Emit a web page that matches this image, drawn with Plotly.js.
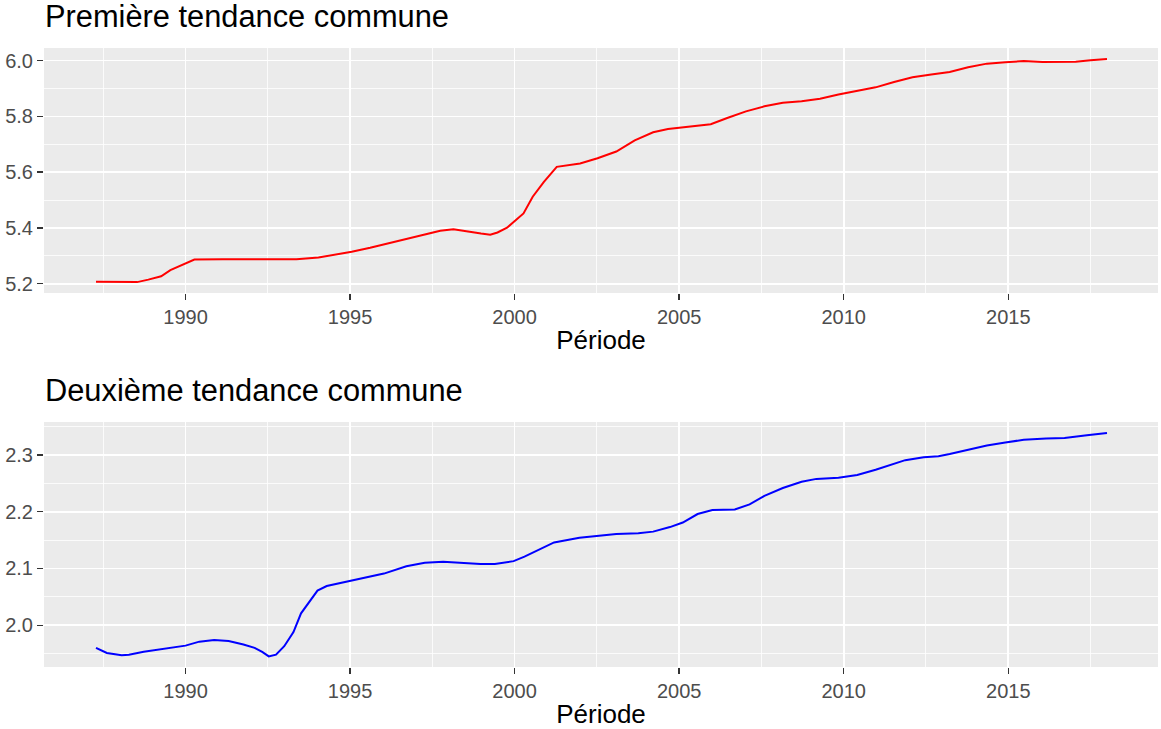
<!DOCTYPE html>
<html>
<head>
<meta charset="utf-8">
<script src="https://cdn.plot.ly/plotly-3.0.1.min.js"></script>
<style>html,body{margin:0;padding:0;background:#fff;}#chart{width:1161px;height:729px;}</style>
</head>
<body>
<div id="chart"></div>
<script>
// Première tendance commune (period, value)
const periodeTop = [1987.28,1987.75,1988.53,1988.87,1989.26,1989.54,1989.99,1990.27,1991.12,1991.73,1992.24,1993.37,1994.04,1994.49,1995.05,1995.61,1996.17,1996.73,1997.30,1997.74,1998.14,1998.53,1998.98,1999.26,1999.48,1999.77,1999.99,2000.27,2000.55,2000.89,2001.28,2001.99,2002.52,2003.09,2003.65,2004.21,2004.66,2005.34,2005.96,2006.46,2007.03,2007.59,2008.15,2008.72,2009.28,2009.84,2010.41,2010.97,2011.53,2012.09,2012.66,2013.22,2013.78,2014.35,2014.91,2015.47,2016.04,2016.60,2017.05,2017.50,2018.00];
const tendance1 = [5.207,5.206,5.206,5.215,5.227,5.249,5.273,5.287,5.288,5.288,5.286,5.288,5.294,5.303,5.315,5.329,5.345,5.359,5.377,5.390,5.395,5.387,5.380,5.376,5.384,5.401,5.422,5.452,5.512,5.565,5.619,5.631,5.650,5.674,5.714,5.743,5.755,5.764,5.772,5.794,5.818,5.836,5.849,5.854,5.863,5.878,5.892,5.904,5.923,5.940,5.950,5.959,5.976,5.989,5.994,5.998,5.995,5.995,5.996,6.001,6.006];

// Deuxième tendance commune (period, value)
const periodeBot = [1987.28,1987.61,1988.06,1988.28,1988.73,1989.29,1989.63,1990.00,1990.42,1990.87,1991.31,1991.76,1992.10,1992.33,1992.53,1992.75,1993.00,1993.28,1993.51,1993.79,1994.01,1994.29,1995.00,1995.58,1996.03,1996.71,1997.27,1997.83,1998.39,1998.96,1999.40,1999.97,2000.30,2000.75,2001.20,2001.97,2002.52,2003.09,2003.76,2004.21,2004.72,2005.11,2005.56,2006.01,2006.69,2007.14,2007.59,2008.15,2008.72,2009.17,2009.84,2010.41,2010.97,2011.53,2011.87,2012.43,2012.88,2013.22,2013.78,2014.35,2014.91,2015.47,2016.15,2016.71,2017.39,2018.00];
const tendance2 = [1.960,1.951,1.947,1.948,1.953,1.958,1.960,1.964,1.971,1.974,1.972,1.966,1.960,1.953,1.945,1.948,1.963,1.988,2.021,2.044,2.061,2.069,2.078,2.084,2.091,2.104,2.110,2.112,2.110,2.108,2.108,2.113,2.121,2.134,2.146,2.154,2.158,2.161,2.162,2.165,2.173,2.181,2.196,2.203,2.204,2.213,2.228,2.242,2.253,2.258,2.260,2.265,2.274,2.284,2.291,2.296,2.298,2.302,2.310,2.317,2.322,2.327,2.329,2.330,2.335,2.339];

const titles = ["Première tendance commune", "Deuxième tendance commune"];
const xTickVals = [1990, 1995, 2000, 2005, 2010, 2015];

const FONT = "Liberation Sans, Arial, sans-serif";
const W = 1161, H = 729;
const px = v => v / W;
const py = v => 1 - v / H;

const traces = [
  {x: periodeTop, y: tendance1, type: 'scatter', mode: 'lines', line: {color: '#FF0000', width: 2}, xaxis: 'x', yaxis: 'y', hoverinfo: 'x+y'},
  {x: periodeBot, y: tendance2, type: 'scatter', mode: 'lines', line: {color: '#0000FF', width: 2}, xaxis: 'x2', yaxis: 'y2', hoverinfo: 'x+y'}
];

function xAxis(anchor) {
  return {
    domain: [px(44), px(1158)],
    anchor: anchor,
    range: [1985.7, 2019.55],
    tickvals: xTickVals,
    ticktext: xTickVals.map(String),
    ticks: 'outside', ticklen: 6, tickwidth: 1.4, tickcolor: '#333333',
    tickfont: {family: FONT, size: 20, color: '#4D4D4D'},
    showgrid: true, gridcolor: '#FFFFFF', gridwidth: 1.6,
    minor: {tickvals: [1987.5, 1992.5, 1997.5, 2002.5, 2007.5, 2012.5, 2017.5], showgrid: true, gridcolor: '#FFFFFF', gridwidth: 0.8, ticks: ''},
    zeroline: false, showline: false,
    title: {text: 'Période', font: {family: FONT, size: 26, color: '#000000'}, standoff: 3},
    fixedrange: true
  };
}

const layout = {
  width: W, height: H,
  margin: {l: 0, r: 0, t: 0, b: 0},
  paper_bgcolor: '#FFFFFF',
  plot_bgcolor: '#EBEBEB',
  showlegend: false,
  font: {family: FONT},
  xaxis: xAxis('y'),
  yaxis: {
    domain: [py(293), py(48)],
    anchor: 'x',
    range: [5.167, 6.045],
    tickvals: [5.2, 5.4, 5.6, 5.8, 6.0],
    ticktext: ['5.2', '5.4', '5.6', '5.8', '6.0'],
    ticks: 'outside', ticklen: 6, tickwidth: 1.4, tickcolor: '#333333',
    tickfont: {family: FONT, size: 20, color: '#4D4D4D'},
    showgrid: true, gridcolor: '#FFFFFF', gridwidth: 1.6,
    minor: {tickvals: [5.1, 5.3, 5.5, 5.7, 5.9], showgrid: true, gridcolor: '#FFFFFF', gridwidth: 0.8, ticks: ''},
    zeroline: false, showline: false, fixedrange: true
  },
  xaxis2: xAxis('y2'),
  yaxis2: {
    domain: [py(667), py(422)],
    anchor: 'x2',
    range: [1.9263, 2.3583],
    tickvals: [2.0, 2.1, 2.2, 2.3],
    ticktext: ['2.0', '2.1', '2.2', '2.3'],
    ticks: 'outside', ticklen: 6, tickwidth: 1.4, tickcolor: '#333333',
    tickfont: {family: FONT, size: 20, color: '#4D4D4D'},
    showgrid: true, gridcolor: '#FFFFFF', gridwidth: 1.6,
    minor: {tickvals: [1.95, 2.05, 2.15, 2.25, 2.35], showgrid: true, gridcolor: '#FFFFFF', gridwidth: 0.8, ticks: ''},
    zeroline: false, showline: false, fixedrange: true
  },
  annotations: [
    {text: titles[0], xref: 'paper', yref: 'paper', x: px(43), y: py(36), xanchor: 'left', yanchor: 'bottom', showarrow: false, font: {family: FONT, size: 30.8, color: '#000000'}},
    {text: titles[1], xref: 'paper', yref: 'paper', x: px(43), y: py(410), xanchor: 'left', yanchor: 'bottom', showarrow: false, font: {family: FONT, size: 30.8, color: '#000000'}}
  ]
};

Plotly.newPlot('chart', traces, layout, {displayModeBar: false, staticPlot: true});
</script>
</body>
</html>
